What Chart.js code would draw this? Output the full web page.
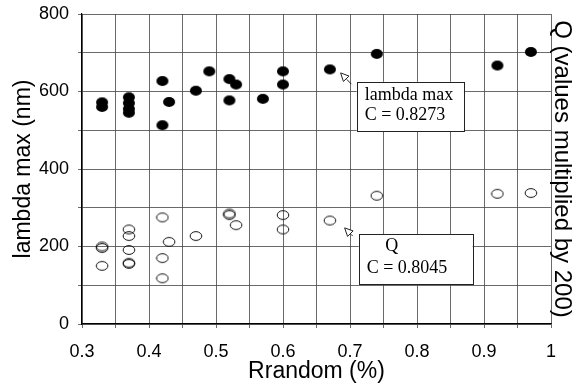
<!DOCTYPE html>
<html>
<head>
<meta charset="utf-8">
<script src="https://cdn.jsdelivr.net/npm/chart.js@4.4.1/dist/chart.umd.min.js"></script>
<style>
  html, body { margin: 0; padding: 0; background: #fff; }
  #wrap { width: 576px; height: 388px; }
</style>
</head>
<body>
<div id="wrap"><canvas id="scatterChart" width="576" height="388"></canvas></div>
<script>
// lambda max (nm) vs Rrandom
var lambdaX = [0.33, 0.33, 0.37, 0.37, 0.37, 0.37, 0.42, 0.42, 0.43, 0.47, 0.49, 0.52, 0.52, 0.53, 0.57, 0.60, 0.60, 0.67, 0.74, 0.92, 0.97];
var lambdaY = [560, 572, 585, 570, 555, 545, 627, 513, 573, 602, 652, 632, 577, 618, 581, 652, 618, 657, 697, 667, 702];

// Q (values multiplied by 200) vs Rrandom
var qX = [0.33, 0.33, 0.33, 0.37, 0.37, 0.37, 0.37, 0.37, 0.42, 0.42, 0.42, 0.43, 0.47, 0.52, 0.52, 0.53, 0.60, 0.60, 0.67, 0.74, 0.92, 0.97];
var qY = [196, 200, 150, 244, 227, 191, 158, 155, 275, 170, 118, 212, 227, 285, 281, 255, 281, 244, 267, 331, 336, 338];

var xTicks = [0.3, 0.4, 0.5, 0.6, 0.7, 0.8, 0.9, 1];
var yTicks = [0, 200, 400, 600, 800];

// text boxes: label lines, box corners and arrow in data units
var notes = [
    { lines: ["lambda max", "C = 0.8273"], x0: 0.710, x1: 0.870, y0: 625, y1: 498, tip: [0.686, 648], tail: [0.702, 619] },
    { lines: ["Q", "C = 0.8045"], x0: 0.713, x1: 0.883, y0: 232, y1: 103, tip: [0.692, 248], tail: [0.704, 227] }
];

var sans = "'Liberation Sans', Arial, sans-serif";

function toPoints(xs, ys) {
    var pts = [];
    for (var i = 0; i < xs.length; i++) pts.push({ x: xs[i], y: ys[i] });
    return pts;
}

// slightly wide ellipse markers like the scanned plot
function ellipseMarker(filled) {
    var c = document.createElement("canvas");
    c.width = 14; c.height = 12;
    var g = c.getContext("2d");
    g.beginPath();
    g.ellipse(7, 6, filled ? 6 : 5.8, filled ? 5 : 4.4, 0, 0, Math.PI * 2);
    if (filled) { g.fillStyle = "#000"; g.fill(); }
    else { g.lineWidth = 1; g.strokeStyle = "#111"; g.stroke(); }
    return c;
}

var notesPlugin = {
    id: "notes",
    afterDraw: function (chart) {
        var ctx = chart.ctx, xs = chart.scales.x, ys = chart.scales.y;
        ctx.save();
        notes.forEach(function (n) {
            var l = xs.getPixelForValue(n.x0), r = xs.getPixelForValue(n.x1);
            var t = ys.getPixelForValue(n.y0), b = ys.getPixelForValue(n.y1);
            ctx.fillStyle = "#fff";
            ctx.fillRect(l, t, r - l, b - t);
            ctx.strokeStyle = "#222";
            ctx.lineWidth = 1;
            ctx.strokeRect(Math.round(l) + 0.5, Math.round(t) + 0.5, Math.round(r - l), Math.round(b - t));
            ctx.fillStyle = "#000";
            ctx.font = "18px 'Liberation Serif', 'Times New Roman', serif";
            ctx.textBaseline = "middle";
            var cx = (l + r) / 2, h = b - t;
            if (n.lines[0] == "Q") {
                ctx.textAlign = "center";
                ctx.fillText(n.lines[0], cx - 24, t + h * 0.25);
            } else {
                ctx.textAlign = "left";
                ctx.fillText(n.lines[0], l + 8, t + h * 0.27);
            }
            ctx.textAlign = "left";
            ctx.fillText(n.lines[1], l + 8, t + h * 0.68);

            // arrow with a hollow head
            var tx = xs.getPixelForValue(n.tip[0]), ty = ys.getPixelForValue(n.tip[1]);
            var ex = xs.getPixelForValue(n.tail[0]), ey = ys.getPixelForValue(n.tail[1]);
            var ang = Math.atan2(ty - ey, tx - ex);
            var len = 9, spread = 0.45;
            var bx = tx - len * Math.cos(ang), by = ty - len * Math.sin(ang);
            ctx.beginPath();
            ctx.moveTo(ex, ey);
            ctx.lineTo(bx, by);
            ctx.stroke();
            ctx.beginPath();
            ctx.moveTo(tx, ty);
            ctx.lineTo(tx - len * Math.cos(ang - spread), ty - len * Math.sin(ang - spread));
            ctx.lineTo(tx - len * Math.cos(ang + spread), ty - len * Math.sin(ang + spread));
            ctx.closePath();
            ctx.fillStyle = "#fff";
            ctx.fill();
            ctx.stroke();
        });
        ctx.restore();
    }
};

var ctx = document.getElementById("scatterChart").getContext("2d");

var chart = new Chart(ctx, {
    type: "scatter",
    data: {
        datasets: [{
            label: "lambda max",
            data: toPoints(lambdaX, lambdaY),
            pointStyle: ellipseMarker(true),
            pointRadius: 6
        }, {
            label: "Q",
            data: toPoints(qX, qY),
            pointStyle: ellipseMarker(false),
            pointRadius: 6
        }]
    },
    options: {
        responsive: false,
        animation: false,
        layout: { padding: { top: 14, left: 0, right: 0, bottom: 0 } },
        plugins: { legend: { display: false }, tooltip: { enabled: false } },
        scales: {
            x: {
                type: "linear",
                min: 0.3, max: 1,
                afterFit: function (s) { s.height = 64; s.paddingLeft = 0; s.paddingRight = 0; },
                afterBuildTicks: function (s) {
                    var t = [];
                    for (var i = 0; i <= 14; i++) t.push({ value: Math.round((0.3 + i * 0.05) * 100) / 100 });
                    s.ticks = t;
                },
                ticks: {
                    color: "#000",
                    font: { family: sans, size: 18 },
                    padding: 13,
                    maxRotation: 0,
                    autoSkip: false,
                    callback: function (v) { return xTicks.indexOf(v) >= 0 ? String(v) : ""; }
                },
                grid: { color: "#444", lineWidth: 0.8, tickLength: 4 },
                border: { color: "#000", width: 1.2 },
                title: {
                    display: true, text: "Rrandom (%)", color: "#000",
                    font: { family: sans, size: 23 },
                    padding: { top: 0, bottom: 3 }
                }
            },
            y: {
                min: 0, max: 800,
                afterFit: function (s) { s.width = 82; s.paddingTop = 0; s.paddingBottom = 0; },
                ticks: {
                    stepSize: 100,
                    color: "#000",
                    font: { family: sans, size: 18 },
                    padding: 9,
                    callback: function (v) { return yTicks.indexOf(v) >= 0 ? String(v) : ""; }
                },
                grid: { color: "#444", lineWidth: 0.8, tickLength: 4 },
                border: { color: "#000", width: 1.2 },
                title: {
                    display: true, text: "lambda max (nm)", color: "#000",
                    font: { family: sans, size: 23 },
                    padding: { top: 10, bottom: 0 }
                }
            },
            y2: {
                position: "right",
                min: 0, max: 800,
                afterFit: function (s) { s.width = 25; s.paddingTop = 0; s.paddingBottom = 0; },
                ticks: { display: false },
                grid: { display: false },
                border: { display: false },
                title: {
                    display: true, text: "Q (values multiplied by 200)", color: "#000",
                    font: { family: sans, size: 24 },
                    padding: { top: 0, bottom: 0 }
                }
            }
        }
    },
    plugins: [notesPlugin]
});
</script>
</body>
</html>
